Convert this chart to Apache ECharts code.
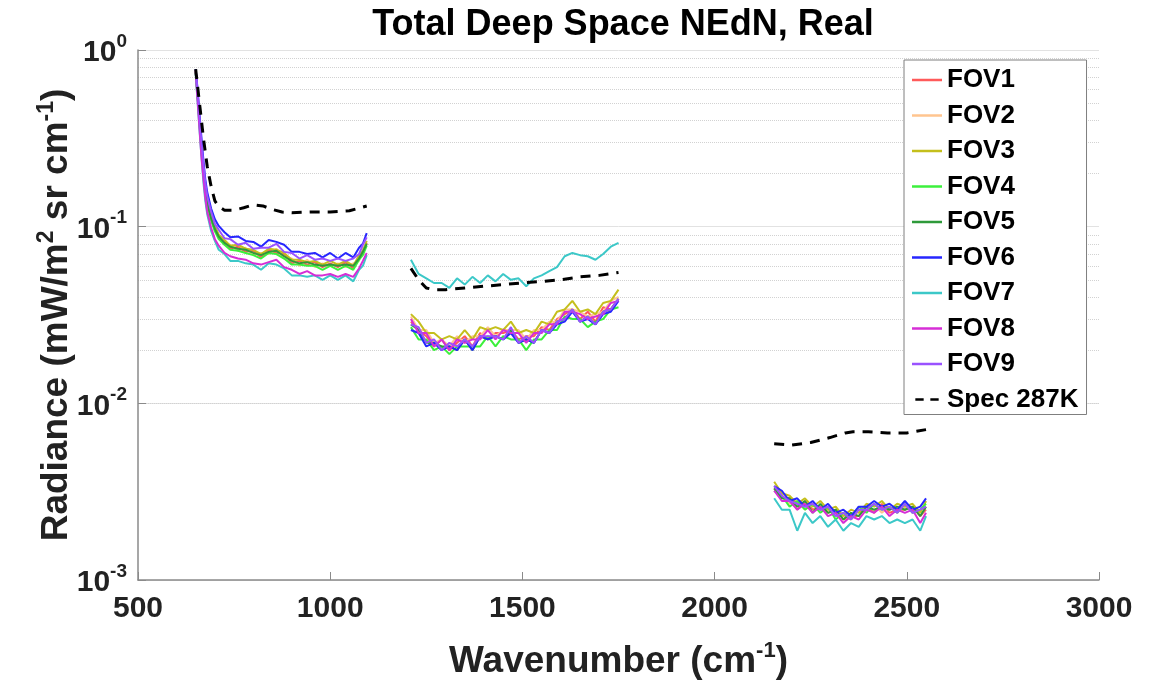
<!DOCTYPE html>
<html>
<head>
<meta charset="utf-8">
<script src="https://cdn.jsdelivr.net/npm/echarts@6/dist/echarts.min.js"></script>
<style>
  html, body { margin: 0; padding: 0; background: #fff; }
  #chart { width: 1158px; height: 684px; }
</style>
</head>
<body>
<div id="chart"></div>
<script>
// wavenumbers (cm^-1) of the three detector bands
const wnBand1 = [650, 655, 660, 665, 670, 675, 680, 690, 700, 710, 725, 740, 760, 780, 800, 820, 840, 860, 880, 900, 920, 940, 960, 980, 1000, 1020, 1040, 1060, 1075, 1085, 1095];
const wnBand2 = [1210, 1230, 1250, 1270, 1290, 1310, 1330, 1350, 1370, 1390, 1410, 1430, 1450, 1470, 1490, 1510, 1530, 1550, 1570, 1590, 1610, 1630, 1650, 1670, 1690, 1710, 1730, 1750];
const wnBand3 = [2155, 2175, 2195, 2215, 2235, 2255, 2275, 2295, 2315, 2335, 2355, 2375, 2395, 2415, 2435, 2455, 2475, 2495, 2515, 2535, 2550];

// NEdN per FOV, band1 | band2 | band3
const fov1 = [
  .76, .55, .39, .28, .21, .163, .137, .110, .098, .086, .082, .075, .077, .072, .073, .067, .074, .071, .070, .062, .064, .061, .063, .059, .062, .059, .063, .058, .068, .070, .081,
  .029, .026, .024, .021, .023, .020, .022, .024, .021, .025, .023, .025, .025, .026, .023, .024, .024, .027, .026, .030, .032, .034, .030, .033, .029, .035, .034, .039,
  .0033, .0029, .0029, .0025, .0028, .0025, .0026, .0024, .0025, .0022, .0023, .0023, .0026, .0024, .0027, .0024, .0025, .0025, .0026, .0023, .0025
];
const fov2 = [
  .75, .56, .38, .29, .20, .167, .139, .113, .095, .089, .079, .079, .073, .076, .069, .071, .070, .075, .066, .066, .060, .065, .059, .062, .060, .062, .059, .062, .064, .075, .079,
  .031, .026, .026, .022, .023, .021, .024, .022, .024, .024, .027, .024, .026, .026, .026, .023, .026, .026, .029, .029, .034, .034, .033, .031, .032, .033, .038, .040,
  .0034, .0031, .0027, .0028, .0025, .0027, .0025, .0025, .0023, .0023, .0022, .0025, .0025, .0027, .0024, .0026, .0024, .0026, .0025, .0025, .0026
];
const fov3 = [
  .77, .57, .40, .29, .22, .170, .142, .114, .101, .090, .084, .078, .079, .075, .074, .070, .075, .074, .071, .065, .065, .063, .064, .061, .064, .061, .064, .060, .069, .073, .083,
  .032, .029, .025, .025, .023, .024, .023, .026, .023, .027, .026, .027, .026, .029, .025, .026, .025, .029, .028, .033, .034, .038, .033, .034, .032, .037, .038, .044,
  .0036, .0031, .0030, .0027, .0029, .0026, .0028, .0025, .0026, .0023, .0025, .0024, .0027, .0026, .0028, .0025, .0027, .0026, .0027, .0024, .0028
];
const fov4 = [
  .74, .54, .38, .27, .20, .160, .133, .109, .094, .085, .079, .074, .073, .071, .069, .066, .071, .070, .066, .061, .061, .060, .060, .057, .060, .057, .060, .057, .065, .069, .078,
  .027, .023, .023, .020, .021, .019, .021, .021, .021, .021, .024, .021, .024, .023, .023, .020, .023, .023, .026, .026, .031, .030, .030, .027, .029, .030, .034, .035,
  .0032, .0030, .0026, .0028, .0025, .0027, .0024, .0026, .0022, .0024, .0022, .0026, .0024, .0027, .0025, .0026, .0024, .0027, .0024, .0025, .0027
];
const fov5 = [
  .75, .56, .39, .28, .21, .165, .136, .112, .097, .088, .081, .077, .075, .074, .071, .069, .072, .073, .068, .064, .062, .063, .061, .060, .061, .060, .061, .060, .066, .072, .080,
  .028, .026, .022, .022, .021, .021, .020, .023, .020, .024, .023, .024, .023, .026, .022, .023, .022, .026, .025, .029, .030, .034, .029, .031, .028, .033, .034, .039,
  .0033, .0029, .0029, .0026, .0028, .0024, .0027, .0024, .0025, .0022, .0024, .0023, .0026, .0025, .0026, .0025, .0026, .0025, .0026, .0023, .0026
];
const fov6 = [
  .78, .60, .43, .32, .24, .186, .157, .127, .110, .101, .093, .087, .088, .083, .082, .077, .084, .082, .079, .072, .072, .070, .071, .067, .071, .066, .071, .067, .076, .080, .092,
  .026, .025, .021, .022, .020, .021, .020, .023, .020, .024, .023, .024, .023, .025, .022, .023, .022, .026, .025, .028, .029, .033, .029, .030, .028, .032, .033, .038,
  .0034, .0032, .0028, .0029, .0026, .0028, .0025, .0027, .0024, .0025, .0023, .0026, .0026, .0028, .0026, .0027, .0025, .0028, .0025, .0026, .0029
];
const fov7 = [
  .74, .51, .35, .25, .18, .141, .118, .095, .083, .074, .070, .064, .064, .062, .061, .057, .062, .061, .058, .053, .053, .052, .053, .050, .053, .050, .053, .049, .057, .060, .069,
  .065, .054, .051, .048, .048, .045, .051, .047, .052, .048, .053, .049, .054, .050, .051, .046, .051, .053, .056, .059, .068, .071, .069, .068, .065, .070, .077, .081,
  .0029, .0025, .0025, .0019, .0024, .0021, .0023, .0020, .0022, .0019, .0021, .0020, .0023, .0022, .0023, .0021, .0022, .0021, .0022, .0019, .0023
];
const fov8 = [
  .75, .52, .36, .25, .19, .147, .122, .099, .085, .078, .071, .068, .066, .065, .062, .061, .063, .065, .059, .057, .054, .056, .053, .053, .054, .052, .054, .052, .058, .064, .071,
  .030, .025, .025, .021, .023, .020, .023, .022, .023, .023, .026, .023, .026, .025, .025, .022, .025, .025, .028, .028, .033, .033, .032, .030, .031, .032, .037, .038,
  .0032, .0028, .0028, .0025, .0027, .0024, .0026, .0023, .0024, .0021, .0023, .0022, .0025, .0024, .0026, .0023, .0025, .0024, .0025, .0021, .0024
];
const fov9 = [
  .77, .59, .42, .30, .23, .178, .149, .122, .104, .096, .086, .085, .079, .081, .075, .076, .076, .080, .072, .071, .066, .069, .065, .066, .064, .066, .064, .066, .070, .079, .087,
  .028, .027, .022, .023, .020, .022, .021, .023, .021, .024, .024, .024, .023, .027, .022, .024, .022, .026, .025, .029, .030, .034, .029, .031, .028, .033, .034, .039,
  .0034, .0030, .0028, .0027, .0026, .0027, .0025, .0026, .0023, .0024, .0022, .0025, .0025, .0027, .0025, .0026, .0024, .0027, .0024, .0025, .0026
];

// spec at 287K
const specWn = [650, 660, 670, 680, 690, 700, 710, 725, 750, 775, 800, 825, 850, 875, 900, 950, 1000, 1050, 1095,
  1210, 1230, 1250, 1270, 1300, 1350, 1400, 1450, 1500, 1550, 1600, 1650, 1700, 1750,
  2155, 2200, 2250, 2300, 2340, 2360, 2400, 2450, 2500, 2550];
const specVal = [.78, .50, .32, .22, .17, .14, .13, .124, .124, .128, .133, .131, .125, .121, .120, .121, .121, .123, .131,
  .058, .050, .045, .044, .044, .045, .046, .047, .048, .049, .050, .052, .053, .055,
  .0059, .0058, .0060, .0064, .0068, .0069, .0069, .0068, .0068, .0071];

const fovNames = ["FOV1", "FOV2", "FOV3", "FOV4", "FOV5", "FOV6", "FOV7", "FOV8", "FOV9"];
const fovData = [fov1, fov2, fov3, fov4, fov5, fov6, fov7, fov8, fov9];
const fovColors = ["#ff5a5a", "#ffc58f", "#c4bf1c", "#3cf03c", "#2e9a3a", "#2626ff", "#3cc8c8", "#d62ed6", "#9a52ff"];

const yMinor = [0.002, 0.003, 0.004, 0.005, 0.006, 0.007, 0.008, 0.009,
  0.02, 0.03, 0.04, 0.05, 0.06, 0.07, 0.08, 0.09,
  0.2, 0.3, 0.4, 0.5, 0.6, 0.7, 0.8, 0.9];

const wnAll = wnBand1.concat(wnBand2, wnBand3);

// pair up with wavenumbers, break the line between bands
function toPoints(xs, ys) {
  let pts = [];
  xs.forEach((x, i) => {
    if (i > 0 && x - xs[i - 1] > 80) pts.push([(x + xs[i - 1]) / 2, "-"]);
    pts.push([x, ys[i]]);
  });
  return pts;
}

const FONT = "Liberation Sans, Arial, Helvetica, sans-serif";

let series = [
  {
    // minor grid lines (dotted), kept under everything
    name: "grid",
    type: "line",
    data: [],
    silent: true,
    z: 0,
    markLine: {
      silent: true,
      z: 0,
      symbol: "none",
      label: { show: false },
      lineStyle: { type: "dotted", color: "#d2d2d2", width: 1 },
      data: yMinor.map(v => ({ yAxis: v }))
    }
  }
];

fovNames.forEach((n, i) => {
  series.push({
    name: n,
    type: "line",
    symbol: "none",
    data: toPoints(wnAll, fovData[i]),
    lineStyle: { width: 2, color: fovColors[i] },
    itemStyle: { color: fovColors[i] }
  });
});

series.push({
  name: "Spec 287K",
  type: "line",
  symbol: "none",
  data: toPoints(specWn, specVal),
  lineStyle: { width: 3, color: "#000", type: [10, 8] },
  itemStyle: { color: "#000" }
});

let legendData = fovNames.map(n => ({ name: n }));
legendData.push({ name: "Spec 287K", icon: "path://M0,0H10V3H0Z M18,0H28V3H18Z" });

let option = {
  animation: false,
  title: {
    text: "Total Deep Space NEdN, Real",
    left: 618,
    textAlign: "center",
    top: 2,
    textStyle: { fontFamily: FONT, fontSize: 36, fontWeight: "bold", color: "#000" }
  },
  legend: {
    data: legendData,
    z: 20,
    orient: "vertical",
    left: 904,
    top: 60,
    icon: "rect",
    itemWidth: 30,
    itemHeight: 2.5,
    itemGap: 9.5,
    padding: [7, 8, 2, 8],
    backgroundColor: "#fff",
    borderColor: "#7f7f7f",
    borderWidth: 1,
    textStyle: { fontFamily: FONT, fontSize: 26, fontWeight: "bold", color: "#000" }
  },
  grid: { left: 138, right: 59, top: 50, bottom: 104, outerBoundsMode: "none" },
  xAxis: {
    type: "value",
    min: 500,
    max: 3000,
    interval: 500,
    name: "Wavenumber (cm{sup|-1})",
    nameLocation: "middle",
    nameGap: 60,
    nameMoveOverlap: false,
    nameTextStyle: {
      fontFamily: FONT, fontSize: 37, fontWeight: "bold", color: "#222", lineHeight: 44,
      rich: { sup: { fontFamily: FONT, fontSize: 22, fontWeight: "bold", color: "#222", verticalAlign: "top", lineHeight: 44 } }
    },
    axisLine: { lineStyle: { color: "#8a8a8a", width: 1.5 } },
    axisTick: { inside: true, length: 8, lineStyle: { color: "#8a8a8a" } },
    axisLabel: {
      fontFamily: FONT, fontSize: 30, fontWeight: "bold", color: "#222", margin: 14,
      formatter: v => String(v)
    },
    splitLine: { show: false }
  },
  yAxis: {
    type: "log",
    logBase: 10,
    min: 0.001,
    max: 1,
    name: "Radiance (mW/m{sup|2} sr cm{sup|-1})",
    nameLocation: "middle",
    nameGap: 59,
    nameMoveOverlap: false,
    nameTextStyle: {
      fontFamily: FONT, fontSize: 37, fontWeight: "bold", color: "#222", lineHeight: 44,
      rich: { sup: { fontFamily: FONT, fontSize: 23, fontWeight: "bold", color: "#222", verticalAlign: "top", lineHeight: 44 } }
    },
    axisLine: { show: true, lineStyle: { color: "#8a8a8a", width: 1.5 } },
    axisTick: { show: true, inside: true, length: 8, lineStyle: { color: "#8a8a8a" } },
    axisLabel: {
      margin: 11,
      formatter: v => "{b|10}{sup|" + Math.round(Math.log10(v)) + "}",
      rich: {
        b: { fontFamily: FONT, fontSize: 30, fontWeight: "bold", color: "#222", lineHeight: 36, verticalAlign: "bottom" },
        sup: { fontFamily: FONT, fontSize: 19, fontWeight: "bold", color: "#222", lineHeight: 36, verticalAlign: "top" }
      }
    },
    splitLine: { show: true, lineStyle: { color: "#e2e2e2", width: 1 } }
  },
  series: series
};

let myChart = echarts.init(document.getElementById("chart"));
myChart.setOption(option);
</script>
</body>
</html>
